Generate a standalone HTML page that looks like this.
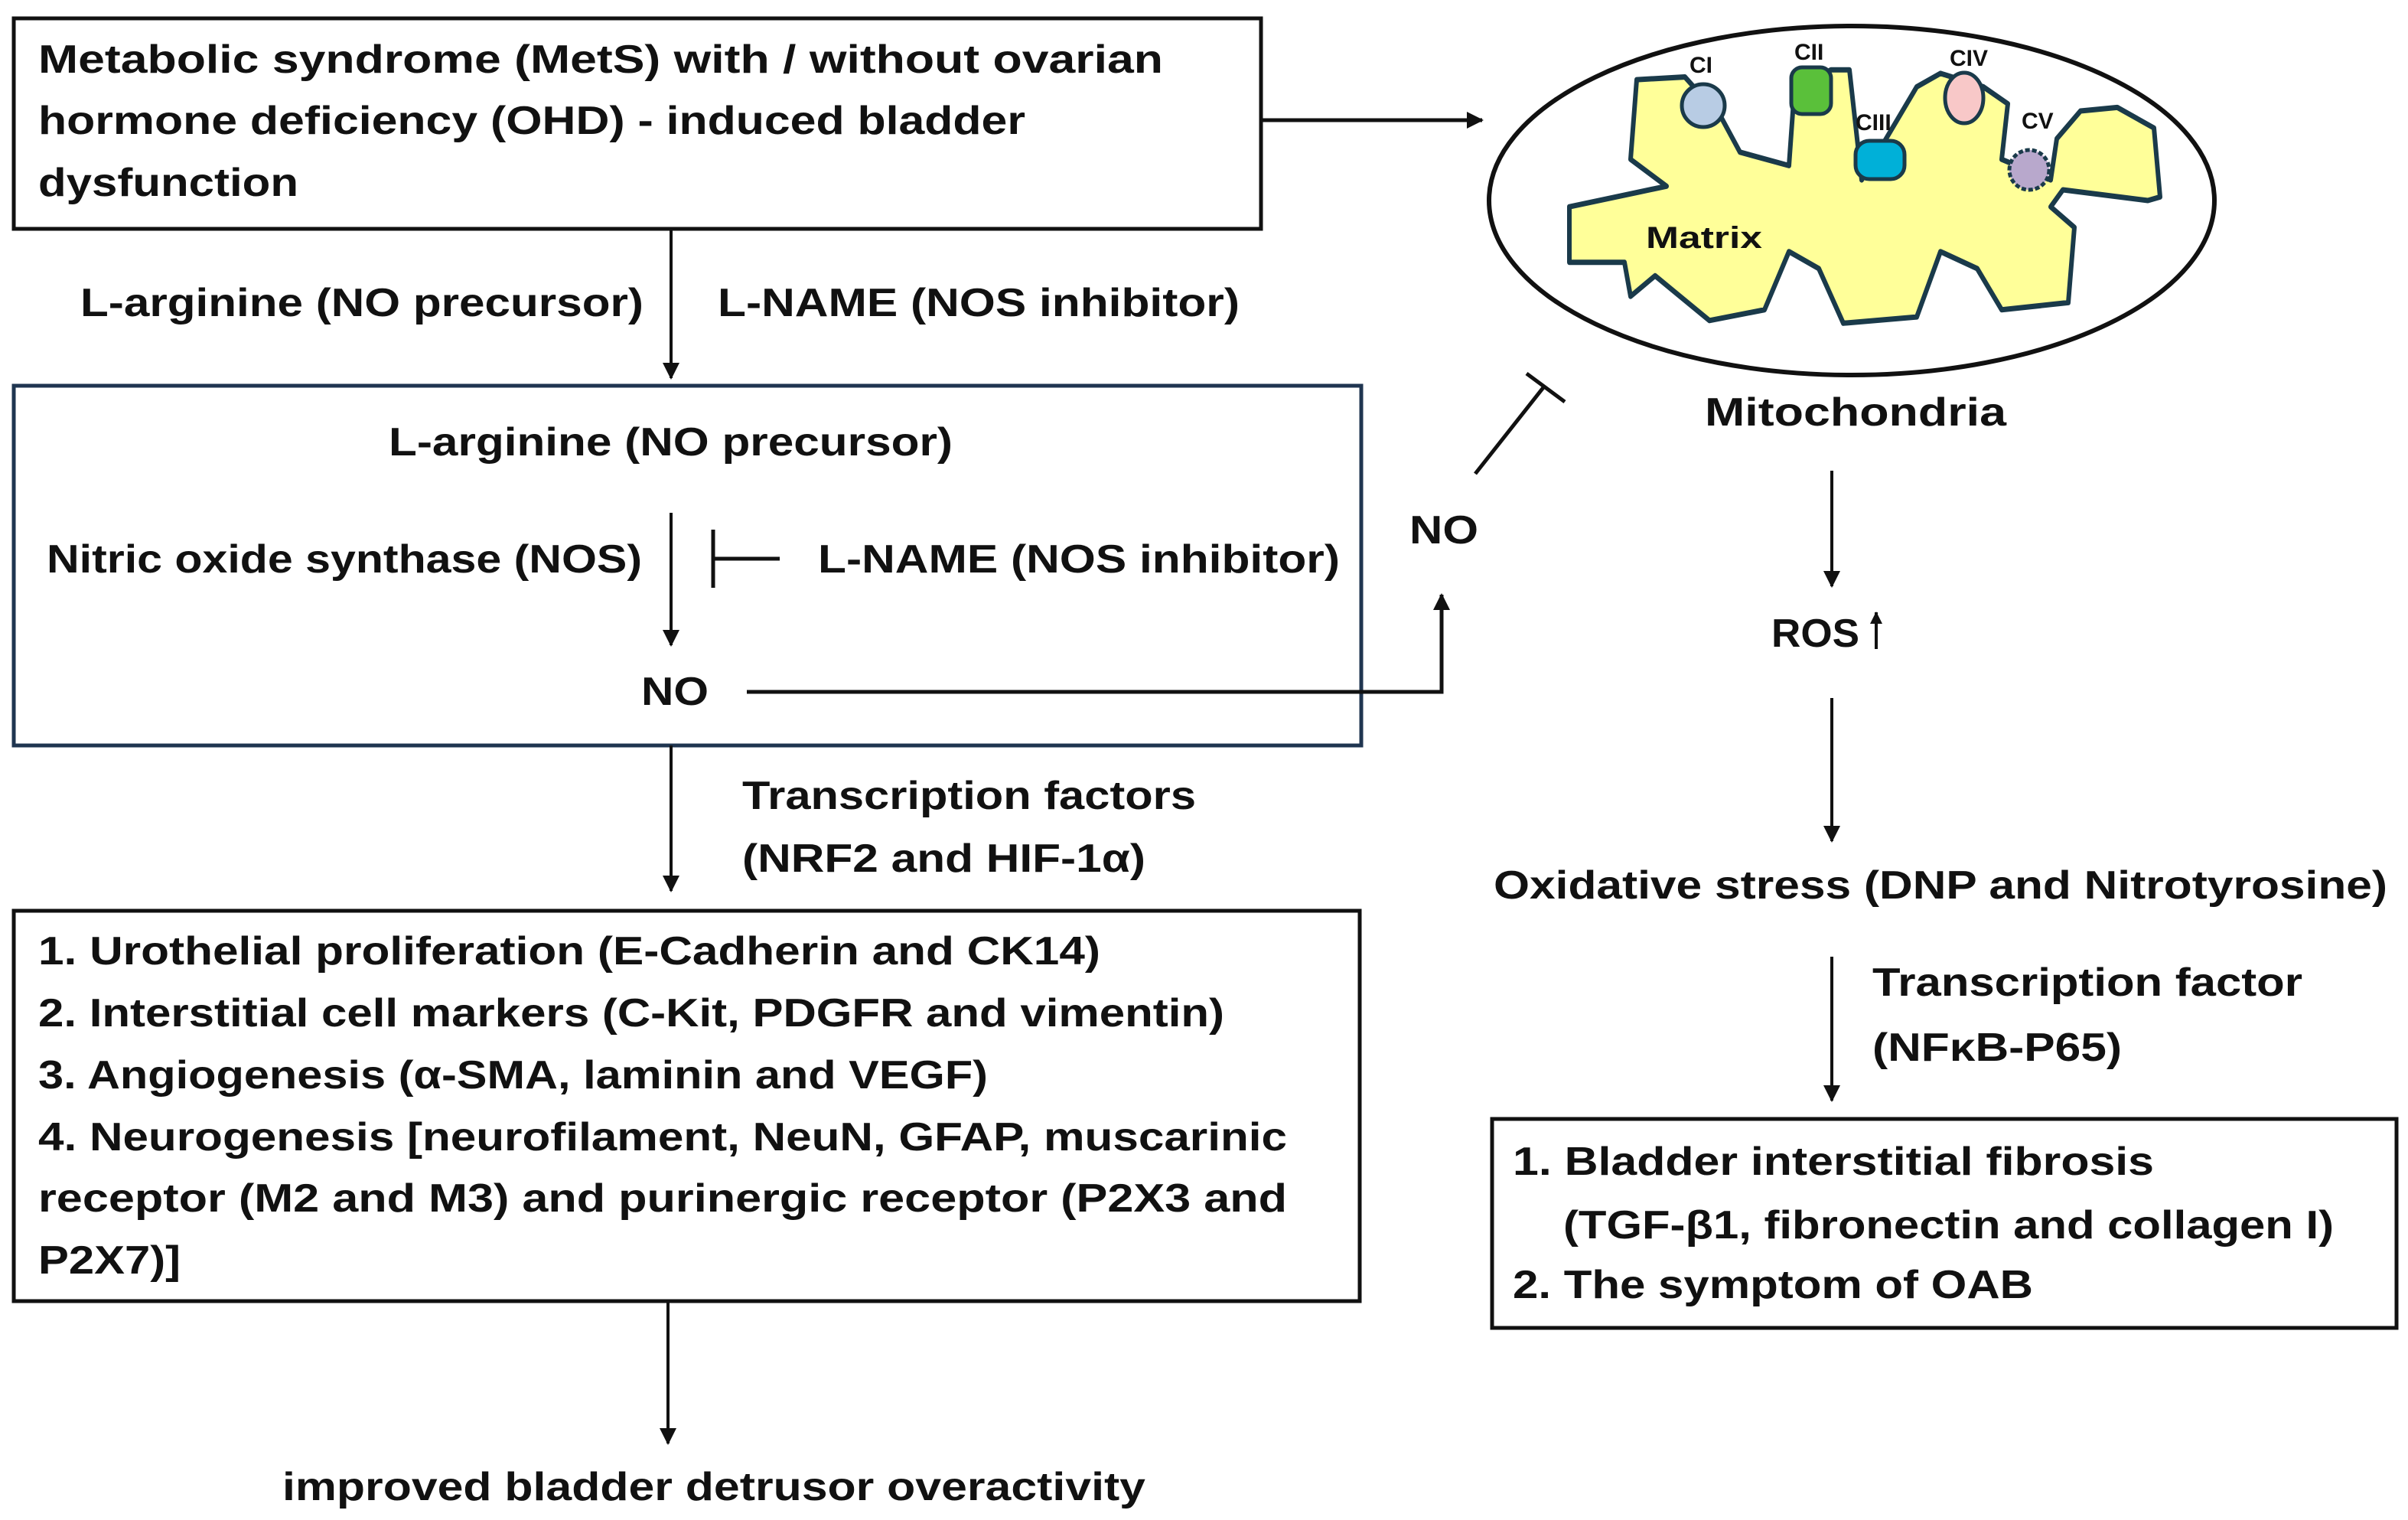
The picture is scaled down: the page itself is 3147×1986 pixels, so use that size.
<!DOCTYPE html>
<html><head><meta charset="utf-8"><style>html,body{margin:0;padding:0;background:#fff}svg{display:block}</style></head>
<body>
<svg width="3147" height="1986" viewBox="0 0 3147 1986" xmlns="http://www.w3.org/2000/svg" font-family="'Liberation Sans', sans-serif" font-weight="bold" fill="#111">
<defs>
<marker id="ab" markerWidth="22" markerHeight="22" refX="20" refY="11" orient="auto" markerUnits="userSpaceOnUse" viewBox="0 0 22 22"><path d="M0,0 L22,11 L0,22 z" fill="#111"/></marker>
<marker id="as" markerWidth="16" markerHeight="16" refX="15" refY="8" orient="auto" markerUnits="userSpaceOnUse" viewBox="0 0 16 16"><path d="M0,0 L16,8 L0,16 z" fill="#111"/></marker>
</defs>
<g font-size="52">
<!-- Box1 -->
<rect x="18" y="24" width="1630" height="275" fill="none" stroke="#111" stroke-width="5"/>
<text x="50" y="95" textLength="1470" lengthAdjust="spacingAndGlyphs">Metabolic syndrome (MetS) with / without ovarian</text>
<text x="50" y="175" textLength="1290" lengthAdjust="spacingAndGlyphs">hormone deficiency (OHD) - induced bladder</text>
<text x="50" y="256" textLength="340" lengthAdjust="spacingAndGlyphs">dysfunction</text>
<line x1="1648" y1="157" x2="1937" y2="157" stroke="#111" stroke-width="5" marker-end="url(#ab)"/>
<line x1="877" y1="299" x2="877" y2="494" stroke="#111" stroke-width="4" marker-end="url(#ab)"/>
<text x="105" y="413" textLength="736" lengthAdjust="spacingAndGlyphs">L-arginine (NO precursor)</text>
<text x="938" y="413" textLength="682" lengthAdjust="spacingAndGlyphs">L-NAME (NOS inhibitor)</text>
<!-- Box2 -->
<rect x="18" y="504" width="1761" height="470" fill="none" stroke="#1f3550" stroke-width="5"/>
<text x="508" y="595" textLength="737" lengthAdjust="spacingAndGlyphs">L-arginine (NO precursor)</text>
<line x1="877" y1="670" x2="877" y2="843" stroke="#111" stroke-width="4" marker-end="url(#ab)"/>
<text x="61" y="748" textLength="778" lengthAdjust="spacingAndGlyphs">Nitric oxide synthase (NOS)</text>
<line x1="932" y1="692" x2="932" y2="768" stroke="#111" stroke-width="5"/>
<line x1="932" y1="730" x2="1019" y2="730" stroke="#111" stroke-width="5"/>
<text x="1069" y="748" textLength="682" lengthAdjust="spacingAndGlyphs">L-NAME (NOS inhibitor)</text>
<text x="838" y="921" textLength="88" lengthAdjust="spacingAndGlyphs">NO</text>
<polyline points="976,904 1884,904 1884,777" fill="none" stroke="#111" stroke-width="5" marker-end="url(#ab)"/>
<text x="1842" y="710" textLength="90" lengthAdjust="spacingAndGlyphs">NO</text>
<line x1="1928" y1="619" x2="2018" y2="505" stroke="#111" stroke-width="5"/>
<line x1="1995" y1="488" x2="2045" y2="525" stroke="#111" stroke-width="5"/>
<!-- left lower -->
<line x1="877" y1="974" x2="877" y2="1164" stroke="#111" stroke-width="4" marker-end="url(#ab)"/>
<text x="970" y="1057" textLength="593" lengthAdjust="spacingAndGlyphs">Transcription factors</text>
<text x="970" y="1139" textLength="527" lengthAdjust="spacingAndGlyphs">(NRF2 and HIF-1α)</text>
<rect x="18" y="1190" width="1759" height="510" fill="none" stroke="#111" stroke-width="5"/>
<text x="50" y="1260" textLength="1388" lengthAdjust="spacingAndGlyphs">1. Urothelial proliferation (E-Cadherin and CK14)</text>
<text x="50" y="1341" textLength="1550" lengthAdjust="spacingAndGlyphs">2. Interstitial cell markers (C-Kit, PDGFR and vimentin)</text>
<text x="50" y="1422" textLength="1241" lengthAdjust="spacingAndGlyphs">3. Angiogenesis (α-SMA, laminin and VEGF)</text>
<text x="50" y="1503" textLength="1632" lengthAdjust="spacingAndGlyphs">4. Neurogenesis [neurofilament, NeuN, GFAP, muscarinic</text>
<text x="50" y="1583" textLength="1632" lengthAdjust="spacingAndGlyphs">receptor (M2 and M3) and purinergic receptor (P2X3 and</text>
<text x="50" y="1664" textLength="186" lengthAdjust="spacingAndGlyphs">P2X7)]</text>
<line x1="873" y1="1700" x2="873" y2="1886" stroke="#111" stroke-width="4" marker-end="url(#ab)"/>
<text x="369" y="1960" textLength="1128" lengthAdjust="spacingAndGlyphs">improved bladder detrusor overactivity</text>
<!-- mitochondria -->
<ellipse cx="2420" cy="262" rx="474" ry="228" fill="none" stroke="#111" stroke-width="6"/>
<g transform="translate(0,255) scale(1,1.17) translate(0,-255)">
<path d="M2139,126 L2202,123 L2250,169 L2274,207 L2338,222 L2345,138 L2393,115 L2417,115 L2433,238 L2505,134 L2536,119 L2592,134 L2624,153 L2616,215 L2680,238 L2688,192 L2719,161 L2767,157 L2815,180 L2823,257 L2807,261 L2696,249 L2680,268 L2711,291 L2703,375 L2616,383 L2584,337 L2536,318 L2505,391 L2409,398 L2377,337 L2338,318 L2306,383 L2234,395 L2163,345 L2131,368 L2123,330 L2051,330 L2051,268 L2178,245 L2131,215 Z" fill="#ffff99" stroke="#1a3a4a" stroke-width="6" stroke-linejoin="round"/>
</g>
<circle cx="2226" cy="138" r="28" fill="#b8cce4" stroke="#1a3a4a" stroke-width="5"/>
<rect x="2341" y="88" width="52" height="61" rx="14" fill="#5ac03a" stroke="#1a3a4a" stroke-width="5"/>
<rect x="2425" y="184" width="64" height="50" rx="18" fill="#00b0d8" stroke="#1a3a4a" stroke-width="5"/>
<ellipse cx="2567" cy="128" rx="25" ry="33" fill="#f8c8c8" stroke="#1a3a4a" stroke-width="5"/>
<circle cx="2652" cy="222" r="26" fill="#b8a8cc" stroke="#1a3a4a" stroke-width="5" stroke-dasharray="6 3"/>
<g font-size="30">
<text x="2208" y="95">CI</text>
<text x="2345" y="78">CII</text>
<text x="2425" y="170">CIII</text>
<text x="2548" y="86">CIV</text>
<text x="2642" y="168">CV</text>
</g>
<text x="2151" y="324" font-size="40" textLength="152" lengthAdjust="spacingAndGlyphs">Matrix</text>
<text x="2228" y="556" textLength="394" lengthAdjust="spacingAndGlyphs">Mitochondria</text>
<!-- right column -->
<line x1="2394" y1="615" x2="2394" y2="766" stroke="#111" stroke-width="4" marker-end="url(#ab)"/>
<text x="2315" y="845" textLength="115" lengthAdjust="spacingAndGlyphs">ROS</text>
<line x1="2452" y1="848" x2="2452" y2="800" stroke="#111" stroke-width="4" marker-end="url(#as)"/>
<line x1="2394" y1="912" x2="2394" y2="1099" stroke="#111" stroke-width="4" marker-end="url(#ab)"/>
<text x="1952" y="1174" textLength="1168" lengthAdjust="spacingAndGlyphs">Oxidative stress (DNP and Nitrotyrosine)</text>
<line x1="2394" y1="1250" x2="2394" y2="1438" stroke="#111" stroke-width="4" marker-end="url(#ab)"/>
<text x="2447" y="1301" textLength="562" lengthAdjust="spacingAndGlyphs">Transcription factor</text>
<text x="2447" y="1386" textLength="326" lengthAdjust="spacingAndGlyphs">(NFκB-P65)</text>
<rect x="1950" y="1462" width="1182" height="273" fill="none" stroke="#111" stroke-width="5"/>
<text x="1977" y="1535" textLength="838" lengthAdjust="spacingAndGlyphs">1. Bladder interstitial fibrosis</text>
<text x="2043" y="1618" textLength="1007" lengthAdjust="spacingAndGlyphs">(TGF-β1, fibronectin and collagen I)</text>
<text x="1977" y="1696" textLength="680" lengthAdjust="spacingAndGlyphs">2. The symptom of OAB</text>
</g>
</svg>
</body></html>
